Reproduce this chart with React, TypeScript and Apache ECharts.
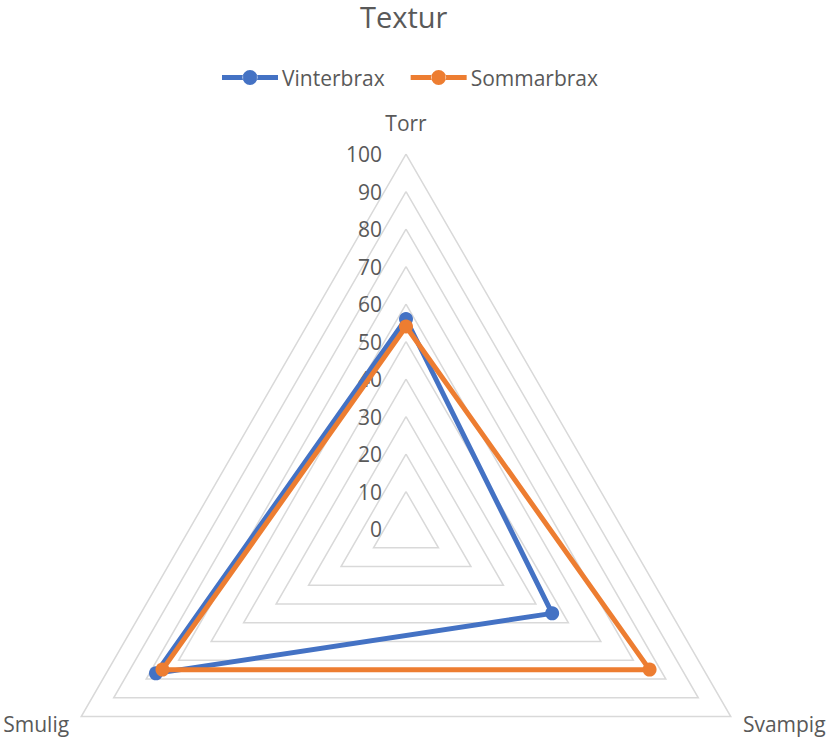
import React, { useEffect, useRef } from "react";
import * as echarts from "echarts";

const titleText = "Textur";
const seriesNames = ["Vinterbrax", "Sommarbrax"];
// indicator order as drawn counter-clockwise from top: Torr, Smulig, Svampig
const categories = ["Torr", "Smulig", "Svampig"];
const vinterbrax = [56, 77, 45];
const sommarbrax = [54, 75, 75];
const axisMin = 0;
const axisMax = 100;
const axisStep = 10;

const colors = ["#4472C4", "#ED7D31"];
const FONT = "Open Sans";
const TEXT_COLOR = "#595959";

const legendIcon =
  "path://M0,5.5 L21.1,5.5 L21.1,10.5 L0,10.5 Z M34.9,5.5 L56,5.5 L56,10.5 L34.9,10.5 Z M20.5,8 A7.5,7.5 0 1,0 35.5,8 A7.5,7.5 0 1,0 20.5,8 Z";

export default function App() {
  const ref = useRef<HTMLDivElement>(null);
  useEffect(() => {
    if (!ref.current) return;
    const chart = echarts.init(ref.current, undefined, { renderer: "svg" });
    chart.setOption({
      animation: false,
      textStyle: { fontFamily: FONT },
      title: {
        text: titleText,
        left: 360,
        top: 2,
        padding: 0,
        textStyle: {
          fontFamily: FONT,
          fontSize: 29,
          fontWeight: "normal",
          color: TEXT_COLOR,
        },
      },
      legend: {
        data: seriesNames.map((n) => ({ name: n, icon: legendIcon })),
        left: 222,
        top: 67,
        padding: 0,
        itemWidth: 56,
        itemHeight: 16,
        itemGap: 26,
        textStyle: { fontFamily: FONT, fontSize: 21, color: TEXT_COLOR, padding: [0, 0, 0, -1] },
      },
      radar: {
        center: [406, 529],
        radius: 375,
        startAngle: 90,
        shape: "polygon",
        splitNumber: (axisMax - axisMin) / axisStep,
        indicator: categories.map((c, i) => ({
          name: c,
          min: axisMin,
          max: axisMax,
          nameGap: i === 0 ? 21 : 14,
          axisLabel: { show: i === 0 },
        })),
        axisName: { color: TEXT_COLOR, fontSize: 21, fontFamily: FONT },
        nameGap: 14,
        axisLine: { show: false },
        axisTick: { show: false },
        axisLabel: {
          show: true,
          color: TEXT_COLOR,
          fontSize: 21,
          fontFamily: FONT,
          margin: 24,
        },
        splitLine: { lineStyle: { color: "#d9d9d9", width: 1.5 } },
        splitArea: { show: false },
      },
      series: [
        {
          type: "radar",
          symbol: "circle",
          symbolSize: 14,
          data: [
            {
              name: seriesNames[0],
              value: vinterbrax,
              lineStyle: { color: colors[0], width: 5 },
              itemStyle: { color: colors[0] },
            },
            {
              name: seriesNames[1],
              value: sommarbrax,
              lineStyle: { color: colors[1], width: 5 },
              itemStyle: { color: colors[1] },
            },
          ],
        },
      ],
    });
    return () => chart.dispose();
  }, []);
  return (
    <div
      ref={ref}
      style={{ position: "absolute", left: 0, top: 0, width: 829, height: 738 }}
    />
  );
}
